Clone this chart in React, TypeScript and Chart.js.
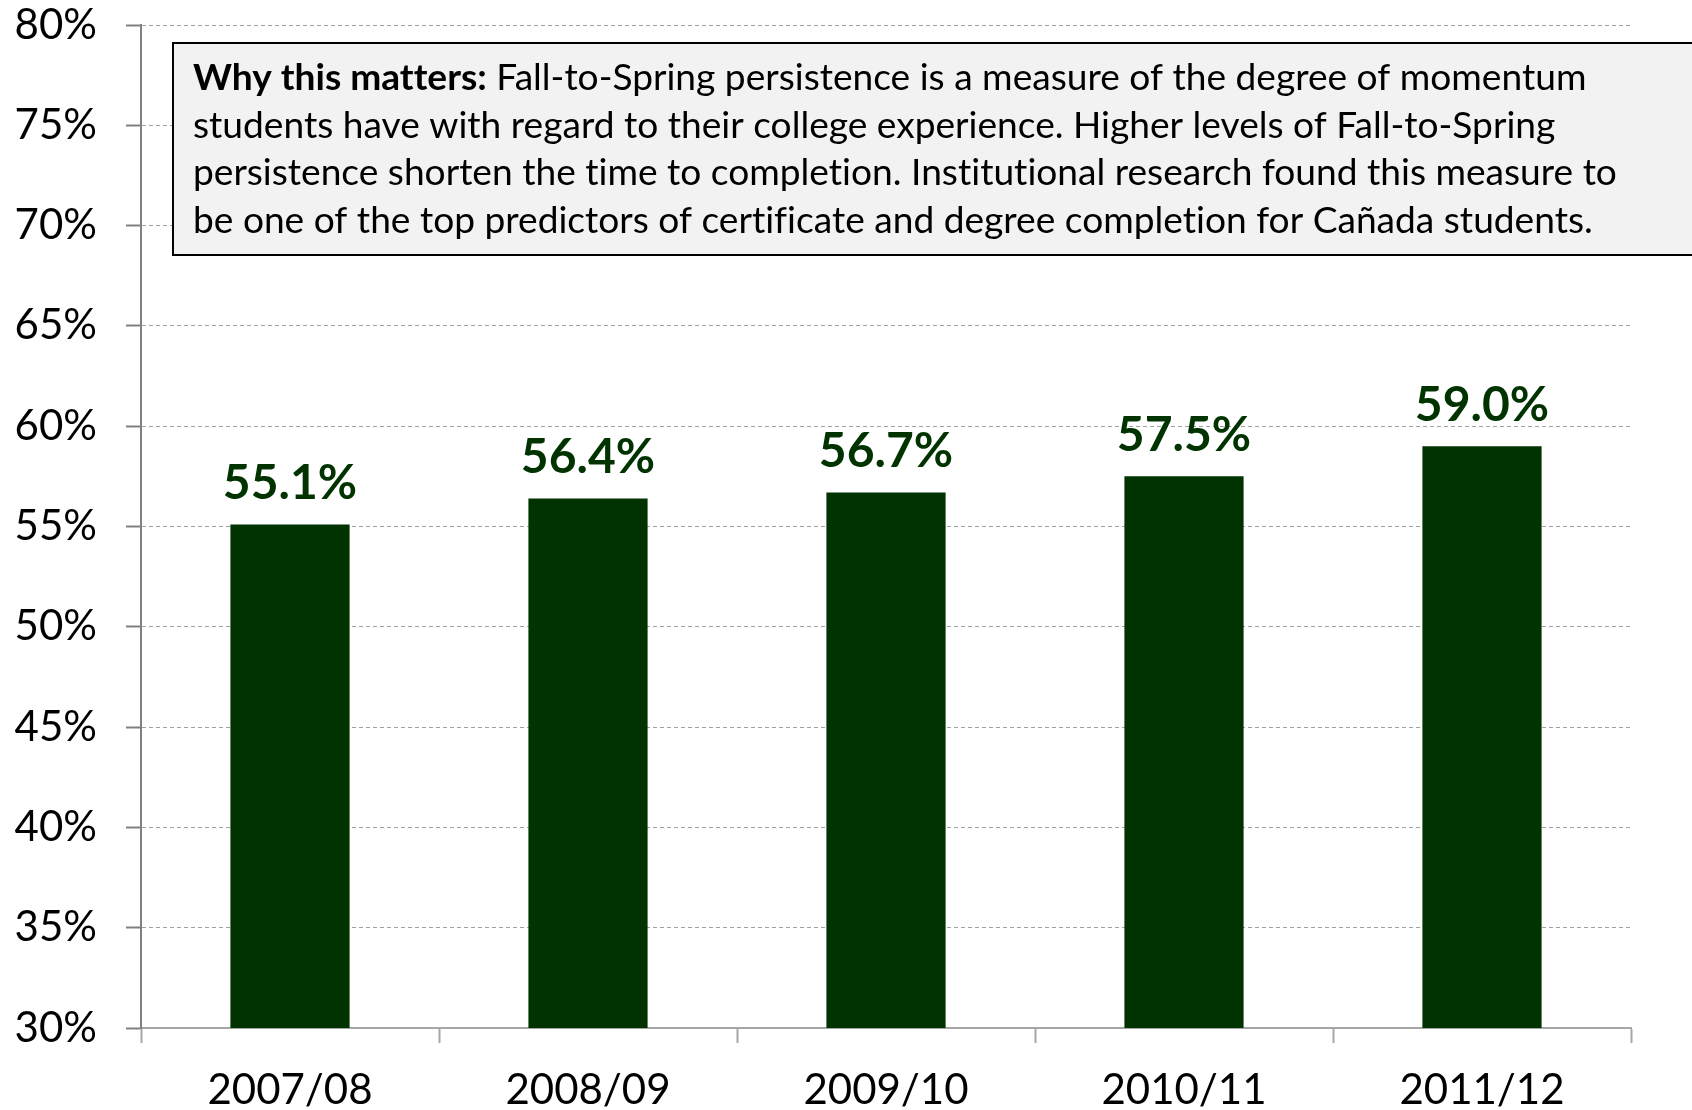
import React, { useEffect, useRef } from "react";
import { Chart, registerables } from "chart.js";

Chart.register(...registerables);

// ---- Data ----
const categories = ["2007/08", "2008/09", "2009/10", "2010/11", "2011/12"];
const persistence = [55.1, 56.4, 56.7, 57.5, 59.0];
const yMin = 30;
const yMax = 80;
const yStep = 5;

const noteBold = "Why this matters:";
const noteLines = [
  " Fall-to-Spring persistence is a measure of the degree of momentum",
  "students have with regard to their college experience. Higher levels of Fall-to-Spring",
  "persistence shorten the time to completion. Institutional research found this measure to",
  "be one of the top predictors of certificate and degree completion for Cañada students.",
];

const BAR_COLOR = "#003300";
const FONT = "Lato, 'Noto Sans', sans-serif";

const W = 1692;
const H = 1110;

const labelsPlugin = {
  id: "barValueLabels",
  afterDatasetsDraw(chart: any) {
    const ctx = chart.ctx;
    const meta = chart.getDatasetMeta(0);
    ctx.save();
    ctx.font = `bold 48px ${FONT}`;
    ctx.fillStyle = BAR_COLOR;
    ctx.textAlign = "center";
    ctx.textBaseline = "alphabetic";
    meta.data.forEach((bar: any, i: number) => {
      ctx.fillText(persistence[i].toFixed(1) + "%", bar.x, bar.y - 25);
    });
    ctx.restore();
  },
};

const notePlugin = {
  id: "noteBox",
  afterDraw(chart: any) {
    const ctx = chart.ctx;
    ctx.save();
    const bx = 173, by = 43, bw = 1530, bh = 212;
    ctx.fillStyle = "#f2f2f2";
    ctx.fillRect(bx, by, bw, bh);
    ctx.lineWidth = 2;
    ctx.strokeStyle = "#000000";
    ctx.strokeRect(bx, by, bw, bh);

    try {
      (ctx as any).textRendering = "optimizeSpeed";
    } catch (e) {}

    // size font so the first line spans the measured width
    const target = 1394;
    ctx.font = `bold 34px ${FONT}`;
    let w1 = ctx.measureText(noteBold).width;
    ctx.font = `34px ${FONT}`;
    w1 += ctx.measureText(noteLines[0]).width;
    const size = (34 * target) / w1;

    const x0 = 193;
    const baselines = [90, 137.5, 185, 232.5];
    ctx.fillStyle = "#000000";
    ctx.textAlign = "left";
    ctx.textBaseline = "alphabetic";
    ctx.font = `bold ${size}px ${FONT}`;
    ctx.fillText(noteBold, x0, baselines[0]);
    const bw1 = ctx.measureText(noteBold).width;
    ctx.font = `${size}px ${FONT}`;
    ctx.fillText(noteLines[0], x0 + bw1, baselines[0]);
    for (let i = 1; i < noteLines.length; i++) {
      ctx.fillText(noteLines[i], x0, baselines[i]);
    }
    ctx.restore();
  },
};

export default function App() {
  const ref = useRef<HTMLCanvasElement | null>(null);

  useEffect(() => {
    if (!ref.current) return;
    const chart = new Chart(ref.current, {
      type: "bar",
      data: {
        labels: categories,
        datasets: [
          {
            data: persistence,
            backgroundColor: BAR_COLOR,
            borderWidth: 0,
            barPercentage: 0.4,
            categoryPercentage: 1.0,
          },
        ],
      },
      options: {
        responsive: false,
        animation: false,
        layout: { padding: { top: 0, right: 61, bottom: 0, left: 0 } },
        plugins: {
          legend: { display: false },
          tooltip: { enabled: false },
        },
        scales: {
          x: {
            offset: true,
            grid: {
              display: true,
              offset: true,
              drawOnChartArea: false,
              drawTicks: true,
              tickLength: 15,
              tickColor: "#a6a6a6",
              tickWidth: 2,
            },
            border: { display: true, color: "#a6a6a6", width: 2 },
            ticks: {
              color: "#000000",
              font: { family: FONT, size: 42 },
              padding: 22,
              maxRotation: 0,
            },
            afterFit: (s: any) => {
              s.height = 82;
              s.paddingLeft = 0;
              s.paddingRight = 0;
            },
          },
          y: {
            min: yMin,
            max: yMax,
            grid: {
              color: (c: any) => (c.tick && c.tick.value === yMin ? "rgba(0,0,0,0)" : "#a0a0a0"),
              lineWidth: 1,
              tickLength: 15,
              tickColor: "#808080",
              tickWidth: 2,
            },
            border: { display: true, color: "#808080", width: 2, dash: [4, 3] },
            ticks: {
              stepSize: yStep,
              color: "#000000",
              font: { family: FONT, size: 42 },
              padding: 29,
              callback: (v: any) => v + "%",
            },
            afterFit: (s: any) => {
              s.width = 141;
              s.paddingTop = 25;
              s.paddingBottom = 0;
            },
          },
        },
      },
      plugins: [labelsPlugin, notePlugin],
    });
    return () => chart.destroy();
  }, []);

  return (
    <div style={{ position: "fixed", left: 0, top: 0, width: W, height: H, background: "#ffffff" }}>
      <canvas ref={ref} width={W} height={H} style={{ width: W, height: H, display: "block" }} />
    </div>
  );
}
